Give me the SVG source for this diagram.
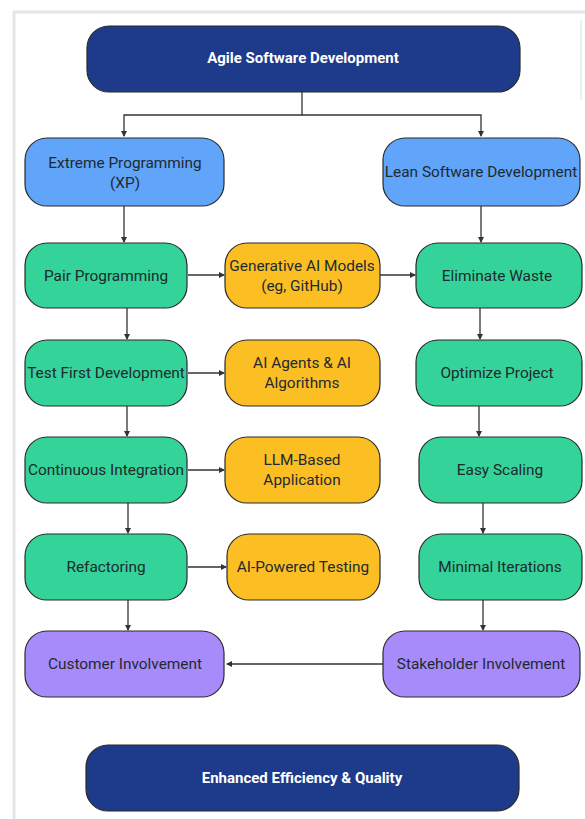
<svg xmlns="http://www.w3.org/2000/svg" width="585" height="819" viewBox="0 0 585 819">
<defs>
<marker id="ah" markerWidth="6" markerHeight="6" refX="5" refY="3" orient="auto" markerUnits="userSpaceOnUse">
<path d="M0,0 L6,3 L0,6 z" fill="#333"/>
</marker>
<style>
.n rect{stroke:#2b2b2b;stroke-width:1.2}
.navy rect{fill:#1e3a8a}
.blue rect{fill:#60a5fa}
.green rect{fill:#34d399}
.yellow rect{fill:#fbbf24}
.purple rect{fill:#a78bfa}
text{font-family:Roboto,"Liberation Sans",sans-serif;font-size:15.4px;fill:#1f2a2e;text-anchor:middle;dominant-baseline:central}
.navy text{fill:#fff;font-weight:bold;font-size:15px}
#conn path{fill:none;stroke:#333;stroke-width:1.3}
</style>
</defs>
<rect width="585" height="819" fill="#fff"/>
<path d="M14,819 V12 H585" fill="none" stroke="#e4e6ea" stroke-width="3"/>
<path d="M581,20 V100" fill="none" stroke="#eceef0" stroke-width="2"/>

<g id="conn">
<path d="M302,92 V115 H124 V136" marker-end="url(#ah)"/>
<path d="M302,115 H481 V136" marker-end="url(#ah)"/>
<path d="M124,206 V242" marker-end="url(#ah)"/>
<path d="M127,308 V339" marker-end="url(#ah)"/>
<path d="M127,406 V436" marker-end="url(#ah)"/>
<path d="M128,503 V533" marker-end="url(#ah)"/>
<path d="M128,600 V630" marker-end="url(#ah)"/>
<path d="M188,275 H224" marker-end="url(#ah)"/>
<path d="M380,275 H415" marker-end="url(#ah)"/>
<path d="M188,373 H224" marker-end="url(#ah)"/>
<path d="M188,470 H224" marker-end="url(#ah)"/>
<path d="M188,567 H226" marker-end="url(#ah)"/>
<path d="M481,206 V242" marker-end="url(#ah)"/>
<path d="M480,308 V339" marker-end="url(#ah)"/>
<path d="M479,406 V436" marker-end="url(#ah)"/>
<path d="M483,503 V533" marker-end="url(#ah)"/>
<path d="M483,600 V630" marker-end="url(#ah)"/>
<path d="M383,664 H227" marker-end="url(#ah)"/>
</g>

<g id="agile" class="n navy"><rect x="87" y="26" width="433" height="66" rx="22"/><text x="303" y="58">Agile Software Development</text></g>
<g id="xp" class="n blue"><rect x="25" y="138" width="199" height="68" rx="22"/><text x="125" y="163">Extreme Programming</text><text x="125" y="183">(XP)</text></g>
<g id="lean" class="n blue"><rect x="383" y="138" width="197" height="68" rx="22"/><text x="481" y="172">Lean Software Development</text></g>

<g id="pair" class="n green"><rect x="25" y="243" width="162" height="65" rx="22"/><text x="106" y="276">Pair Programming</text></g>
<g id="testfirst" class="n green"><rect x="25" y="340" width="162" height="66" rx="22"/><text x="106" y="373">Test First Development</text></g>
<g id="ci" class="n green"><rect x="25" y="437" width="162" height="66" rx="22"/><text x="106" y="470">Continuous Integration</text></g>
<g id="refactoring" class="n green"><rect x="25" y="534" width="162" height="66" rx="22"/><text x="106" y="567">Refactoring</text></g>
<g id="customer" class="n purple"><rect x="25" y="631" width="199" height="66" rx="22"/><text x="125" y="664">Customer Involvement</text></g>

<g id="genai" class="n yellow"><rect x="225" y="243" width="155" height="65" rx="22"/><text x="302" y="266">Generative AI Models</text><text x="302" y="286">(eg, GitHub)</text></g>
<g id="agents" class="n yellow"><rect x="225" y="340" width="155" height="66" rx="22"/><text x="302" y="363">AI Agents &amp; AI</text><text x="302" y="383">Algorithms</text></g>
<g id="llm" class="n yellow"><rect x="225" y="437" width="155" height="66" rx="22"/><text x="302" y="460">LLM-Based</text><text x="302" y="480">Application</text></g>
<g id="testing" class="n yellow"><rect x="227" y="534" width="153" height="66" rx="22"/><text x="303" y="567">AI-Powered Testing</text></g>

<g id="waste" class="n green"><rect x="416" y="243" width="166" height="65" rx="22"/><text x="497" y="276">Eliminate Waste</text></g>
<g id="optimize" class="n green"><rect x="416" y="340" width="166" height="66" rx="22"/><text x="497" y="373">Optimize Project</text></g>
<g id="scaling" class="n green"><rect x="419" y="437" width="163" height="66" rx="22"/><text x="500" y="470">Easy Scaling</text></g>
<g id="minimal" class="n green"><rect x="419" y="534" width="163" height="66" rx="22"/><text x="500" y="567">Minimal Iterations</text></g>
<g id="stakeholder" class="n purple"><rect x="383" y="631" width="197" height="66" rx="22"/><text x="481" y="664">Stakeholder Involvement</text></g>

<g id="enhanced" class="n navy"><rect x="86" y="745" width="433" height="66" rx="22"/><text x="302" y="778">Enhanced Efficiency &amp; Quality</text></g>
</svg>
